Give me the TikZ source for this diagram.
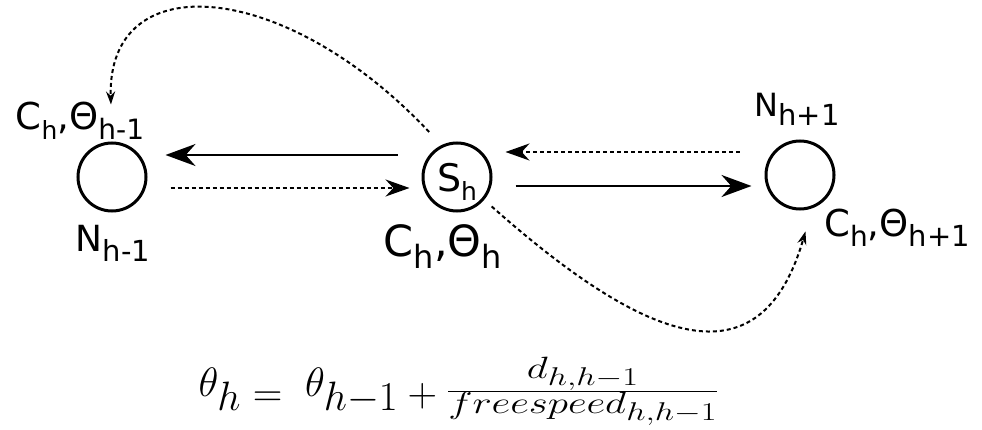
\documentclass[tikz,border=0pt]{standalone}
\usepackage{fontspec}
\setmainfont{DejaVu Sans}
\usetikzlibrary{arrows.meta}

% lowered index in DejaVu
\newcommand{\lo}[2]{\raisebox{-.26em}{\fontsize{#1}{#1}\selectfont #2}}

\begin{document}
\begin{tikzpicture}[
  x=1pt,y=-1pt,
  station/.style={draw,circle,line width=3pt,minimum size=68pt,inner sep=0pt},
  tag/.style={inner sep=0pt,anchor=base},
  flow/.style={line width=2.6pt,-{Stealth[length=30pt,width=22pt]}},
  back/.style={line width=2pt,dash pattern=on 4pt off 3pt,-{Stealth[length=24pt,width=17pt]}},
  jump/.style={line width=2pt,dash pattern=on 4pt off 3pt,-{Stealth[length=13pt,width=9pt]}}
]
  \useasboundingbox (0,0) rectangle (982,430);

  % stations
  \node[station] (nprev) at (112,177) {};
  \node[station,text depth=0pt,font=\fontsize{38}{38}\selectfont] (shere) at (457,177) {S\lo{25}{h}};
  \node[station] (nnext) at (800,175) {};

  % labels
  \node[tag,font=\fontsize{37}{37}\selectfont] (cprev) at (80,130) {C\lo{25}{h},Θ\lo{28}{h-1}};
  \node[tag,font=\fontsize{36}{36}\selectfont] (nprevtag) at (113,252) {N\lo{29}{h-1}};
  \node[tag,font=\fontsize{43}{43}\selectfont] (chere) at (443,257) {C\lo{32}{h},Θ\lo{32}{h}};
  \node[tag,font=\fontsize{32}{32}\selectfont] (nnexttag) at (797,117) {N\lo{29}{h+1}};
  \node[tag,font=\fontsize{37}{37}\selectfont] (cnext) at (897,237) {C\lo{28}{h},Θ\lo{29}{h+1}};

  % formula
  \node[tag,font=\fontsize{40}{48}\selectfont] (formula) at (459,406)
    {\scalebox{1.65}{$\raisebox{6pt}{$\theta_h$} =\; \raisebox{6pt}{$\theta_{h-1}$} + \raisebox{4.4pt}{\scalebox{1}[0.75]{$\frac{d_{h,h-1}}{freespeed_{h,h-1}}$}}$}};

  % links
  \draw[flow,shorten <=24pt,shorten >=18pt] ([yshift=22pt]shere.west) -- ([yshift=22pt]nprev.east);
  \draw[back,shorten <=23pt,shorten >=12pt] ([yshift=-11pt]nprev.east) -- ([yshift=-11pt]shere.west);
  \draw[back,shorten <=25pt,shorten >=13pt] ([yshift=23pt]nnext.west) -- ([yshift=25pt]shere.east);
  \draw[flow,shorten <=23pt,shorten >=13pt] ([yshift=-9pt]shere.east) -- ([yshift=-11pt]nnext.west);
  \draw[jump,shorten <=18pt,shorten >=37pt] (shere.116) .. controls +(-156,-166) and +(-5,-177) .. (nprev.north);
  \draw[jump,shorten <=10pt,shorten >=24pt] (shere.-40) .. controls +(160,142) and +(-52,180) .. (nnext.-70);
\end{tikzpicture}
\end{document}
